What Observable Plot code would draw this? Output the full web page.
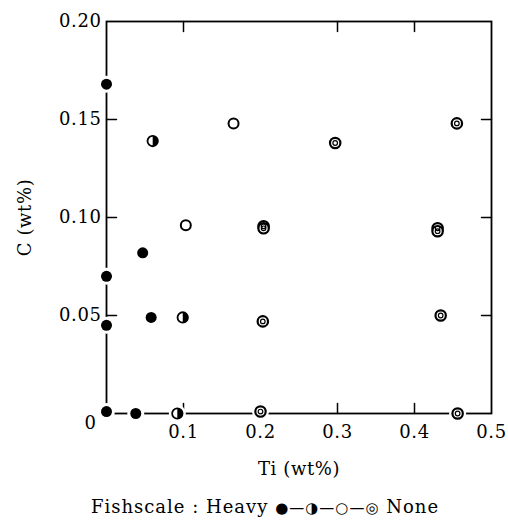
<!DOCTYPE html>
<html>
<head>
<meta charset="utf-8">
<script src="https://cdn.jsdelivr.net/npm/d3@7"></script>
<script src="https://cdn.jsdelivr.net/npm/@observablehq/plot@0.6"></script>
<style>
  body { margin: 0; background: #fff; }
  #chart svg { display: block; letter-spacing: 0.6px; }
  #cap {
    font-family: "DejaVu Serif", "Liberation Serif", serif;
    font-size: 18px; line-height: 34px; height: 35px;
    text-align: center; padding-left: 22px; letter-spacing: 1px; color: #000;
    white-space: nowrap;
  }
  #cap .sym { font-family: "DejaVu Sans", sans-serif; font-size: 15px; letter-spacing: 1px; }
</style>
</head>
<body>
<div id="chart"></div>
<div id="cap">Fishscale : Heavy <span class="sym">●—◑—○—◎</span> None</div>
<script>
// Fishscale: Heavy (filled)
const heavyTi = [0.000, 0.047, 0.000, 0.000, 0.058, 0.000, 0.038];
const heavyC  = [0.168, 0.082, 0.070, 0.045, 0.049, 0.001, 0.000];
// half-filled
const halfTi = [0.060, 0.099, 0.092];
const halfC  = [0.139, 0.049, 0.000];
// open
const openTi = [0.165, 0.103];
const openC  = [0.148, 0.096];
// None (double circle)
const noneTi = [0.297, 0.455, 0.204, 0.204, 0.430, 0.430, 0.203, 0.434, 0.200, 0.456];
const noneC  = [0.138, 0.148, 0.0955, 0.0945, 0.0945, 0.0930, 0.047, 0.050, 0.001, 0.000];

const xTickLabels = [0.1, 0.2, 0.3, 0.4, 0.5];
const yTickLabels = [0.05, 0.10, 0.15, 0.20];
const topTicks = [0.1, 0.3, 0.4];
const bottomTicks = [0.1, 0.2, 0.3, 0.4];
const leftTicks = [0.05, 0.10, 0.15];
const rightTicks = [0.05, 0.10, 0.15];
const originLabel = [{Ti: 0, C: 0, label: "0"}];

const toRows = (xs, ys) => xs.map((x, i) => ({Ti: x, C: ys[i]}));
const heavy = toRows(heavyTi, heavyC);
const half = toRows(halfTi, halfC);
const open = toRows(openTi, openC);
const none = toRows(noneTi, noneC);
const all = [...heavy, ...half, ...open, ...none];

const tickLine = {draw(context, l) { context.moveTo(0, 0); context.lineTo(0, -l); }};
const halfDisc = {draw(context, size) {
  const r = Math.sqrt(size / Math.PI);
  context.moveTo(0, -r);
  context.arc(0, 0, r, -Math.PI / 2, Math.PI / 2);
  context.closePath();
}};

const tickOpts = {length: 10, anchor: "start", shape: tickLine, stroke: "black", strokeWidth: 1.5};

const plot = Plot.plot({
  width: 508,
  height: 490,
  marginLeft: 106,
  marginRight: 17,
  marginTop: 21,
  marginBottom: 77,
  style: {fontFamily: "'DejaVu Serif', 'Liberation Serif', serif", fontSize: "18px", color: "black", background: "white"},
  x: {domain: [0, 0.5]},
  y: {domain: [0, 0.2]},
  marks: [
    Plot.frame({stroke: "black", strokeWidth: 1.8}),
    Plot.vector(bottomTicks, {...tickOpts, x: d => d, frameAnchor: "bottom", rotate: 0}),
    Plot.vector(topTicks, {...tickOpts, x: d => d, frameAnchor: "top", rotate: 180}),
    Plot.vector(leftTicks, {...tickOpts, y: d => d, frameAnchor: "left", rotate: 90}),
    Plot.vector(rightTicks, {...tickOpts, y: d => d, frameAnchor: "right", rotate: -90}),
    Plot.axisX(xTickLabels, {anchor: "bottom", tickSize: 0, tickPadding: 12, tickFormat: d3.format(".1f"), fontSize: 18, label: null}),
    Plot.axisY(yTickLabels, {anchor: "left", tickSize: 0, tickPadding: 5, tickFormat: d3.format(".2f"), fontSize: 18, label: null}),
    Plot.text(originLabel, {x: "Ti", y: "C", text: "label", dx: -16, dy: 10, fontSize: 18}),
    Plot.text(["Ti (wt%)"], {frameAnchor: "bottom", dy: 61, fontSize: 18}),
    Plot.text(["C (wt%)"], {frameAnchor: "left", textAnchor: "middle", dx: -81, rotate: -90, fontSize: 18}),
    // white halos that break the frame around the points
    Plot.dot(all, {x: "Ti", y: "C", r: 8.5, fill: "white", stroke: "none"}),
    // heavy
    Plot.dot(heavy, {x: "Ti", y: "C", r: 5.5, fill: "black", stroke: "none"}),
    // half
    Plot.dot(half, {x: "Ti", y: "C", r: 5.2, fill: "white", stroke: "black", strokeWidth: 1.8}),
    Plot.dot(half, {x: "Ti", y: "C", r: 5.2, symbol: halfDisc, fill: "black", stroke: "none"}),
    // open
    Plot.dot(open, {x: "Ti", y: "C", r: 5, fill: "white", stroke: "black", strokeWidth: 2}),
    // none (double circle)
    Plot.dot(none, {x: "Ti", y: "C", r: 5.2, fill: "white", stroke: "black", strokeWidth: 2.2}),
    Plot.dot(none, {x: "Ti", y: "C", r: 2.3, fill: "none", stroke: "black", strokeWidth: 1.2})
  ]
});
document.getElementById("chart").appendChild(plot);
</script>
</body>
</html>
